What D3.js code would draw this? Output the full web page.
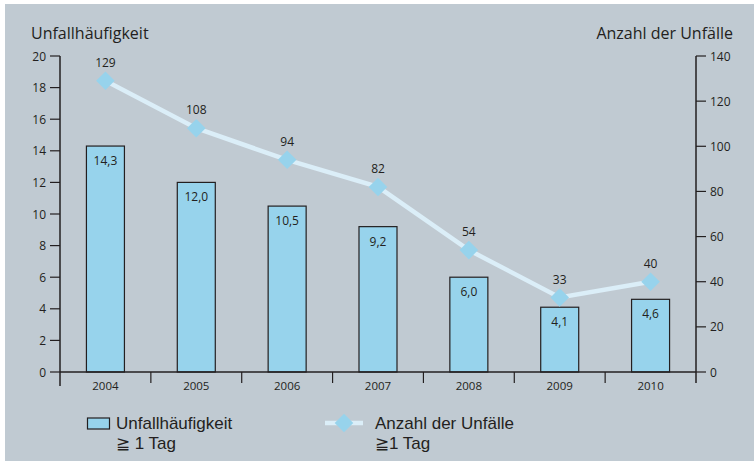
<!DOCTYPE html>
<html>
<head>
<meta charset="utf-8">
<script src="https://cdn.jsdelivr.net/npm/d3@7"></script>
<style>
  body { margin: 0; background: #fff; }
  svg { display: block; font-family: "Open Sans", "Noto Sans", sans-serif; }
  .legend text { font-family: "Liberation Sans", Arial, sans-serif; }
</style>
</head>
<body>
<svg width="754" height="461"></svg>
<script>
// data
const years = ['2004', '2005', '2006', '2007', '2008', '2009', '2010'];
const haeufigkeit = [14.3, 12.0, 10.5, 9.2, 6.0, 4.1, 4.6]; // left axis, bars
const anzahl = [129, 108, 94, 82, 54, 33, 40]; // right axis, line
const leftTicks = [0, 2, 4, 6, 8, 10, 12, 14, 16, 18, 20];
const rightTicks = [0, 20, 40, 60, 80, 100, 120, 140];

const svg = d3.select('svg');
const bg = '#c0cad2';
const barFill = '#97d3ec';
const lineCol = '#dbeef8';
const dark = '#231f20';

svg.append('rect').attr('x', 5).attr('y', 4).attr('width', 749).attr('height', 457).attr('fill', bg);

const pLeft = 60, pRight = 696, pTop = 56, pBottom = 372;

const x = d3.scaleBand().domain(years).range([pLeft, pRight]);
const yL = d3.scaleLinear().domain([0, 20]).range([pBottom, pTop]);
const yR = d3.scaleLinear().domain([0, 140]).range([pBottom, pTop]);

const fmt = v => d3.format('.1f')(v).replace('.', ',');

// bars
const bw = 38;
svg.append('g').selectAll('rect')
  .data(haeufigkeit)
  .enter()
  .append('rect')
  .attr('x', (d, i) => x(years[i]) + x.bandwidth() / 2 - bw / 2)
  .attr('y', d => yL(d))
  .attr('width', bw)
  .attr('height', d => pBottom - yL(d))
  .attr('fill', barFill)
  .attr('stroke', dark)
  .attr('stroke-width', 1.2);

svg.append('g').selectAll('text')
  .data(haeufigkeit)
  .enter()
  .append('text')
  .attr('x', (d, i) => x(years[i]) + x.bandwidth() / 2)
  .attr('y', d => yL(d) + 19)
  .attr('text-anchor', 'middle')
  .attr('font-size', 12)
  .attr('fill', dark)
  .text(d => fmt(d));

// left axis
const axL = svg.append('g');
axL.append('line').attr('x1', pLeft).attr('x2', pLeft).attr('y1', pTop).attr('y2', pBottom + 14)
  .attr('stroke', dark).attr('stroke-width', 1.5);
axL.selectAll('line.t').data(leftTicks).enter().append('line')
  .attr('x1', pLeft - 10).attr('x2', pLeft).attr('y1', d => yL(d)).attr('y2', d => yL(d))
  .attr('stroke', dark).attr('stroke-width', 1.2);
axL.selectAll('text').data(leftTicks).enter().append('text')
  .attr('x', pLeft - 14).attr('y', d => yL(d) + 4.5)
  .attr('text-anchor', 'end').attr('font-size', 12).attr('fill', dark)
  .text(d => d);

// right axis
const axR = svg.append('g');
axR.append('line').attr('x1', pRight).attr('x2', pRight).attr('y1', pTop).attr('y2', pBottom + 11)
  .attr('stroke', dark).attr('stroke-width', 1.5);
axR.selectAll('line.t').data(rightTicks).enter().append('line')
  .attr('x1', pRight).attr('x2', pRight + 10).attr('y1', d => yR(d)).attr('y2', d => yR(d))
  .attr('stroke', dark).attr('stroke-width', 1.2);
axR.selectAll('text').data(rightTicks).enter().append('text')
  .attr('x', pRight + 14).attr('y', d => yR(d) + 4.5)
  .attr('text-anchor', 'start').attr('font-size', 12).attr('fill', dark)
  .text(d => d);

// x axis
const axX = svg.append('g');
axX.append('line').attr('x1', pLeft).attr('x2', pRight).attr('y1', pBottom).attr('y2', pBottom)
  .attr('stroke', dark).attr('stroke-width', 1.5);
axX.selectAll('line.t').data(years.slice(1)).enter().append('line')
  .attr('x1', d => x(d)).attr('x2', d => x(d)).attr('y1', pBottom).attr('y2', pBottom + 11)
  .attr('stroke', dark).attr('stroke-width', 1.2);
axX.selectAll('text').data(years).enter().append('text')
  .attr('x', d => x(d) + x.bandwidth() / 2).attr('y', pBottom + 18)
  .attr('text-anchor', 'middle').attr('font-size', 11.5).attr('fill', dark)
  .text(d => d);

// line
const line = d3.line()
  .x((d, i) => x(years[i]) + x.bandwidth() / 2)
  .y(d => yR(d));
svg.append('path').datum(anzahl)
  .attr('d', line).attr('fill', 'none')
  .attr('stroke', lineCol).attr('stroke-width', 4.5);

const diamond = d3.symbol().type(d3.symbolDiamond2).size(220);
svg.append('g').selectAll('path')
  .data(anzahl).enter().append('path')
  .attr('d', diamond)
  .attr('transform', (d, i) => `translate(${x(years[i]) + x.bandwidth() / 2},${yR(d)})`)
  .attr('fill', barFill);

svg.append('g').selectAll('text')
  .data(anzahl).enter().append('text')
  .attr('x', (d, i) => x(years[i]) + x.bandwidth() / 2)
  .attr('y', d => yR(d) - 14)
  .attr('text-anchor', 'middle').attr('font-size', 12).attr('fill', dark)
  .text(d => d);

// axis titles
svg.append('text').attr('x', 31).attr('y', 39).attr('font-size', 16).attr('fill', dark)
  .text('Unfallhäufigkeit');
svg.append('text').attr('x', 733).attr('y', 39).attr('font-size', 16).attr('fill', dark)
  .attr('text-anchor', 'end').text('Anzahl der Unfälle');

// legend
const lg = svg.append('g').attr('class', 'legend');
lg.append('rect').attr('x', 87.5).attr('y', 418).attr('width', 22).attr('height', 11)
  .attr('fill', barFill).attr('stroke', dark).attr('stroke-width', 1.2);
const t1 = lg.append('text').attr('x', 116).attr('y', 429).attr('font-size', 17).attr('fill', dark);
t1.append('tspan').attr('x', 116).text('Unfallhäufigkeit');
t1.append('tspan').attr('x', 116).attr('dy', 19.6).text('≧ 1 Tag');

lg.append('line').attr('x1', 325).attr('x2', 363).attr('y1', 423).attr('y2', 423)
  .attr('stroke', lineCol).attr('stroke-width', 4.5);
lg.append('path').attr('d', diamond).attr('transform', 'translate(344,423)').attr('fill', barFill);
const t2 = lg.append('text').attr('x', 375).attr('y', 429).attr('font-size', 17).attr('fill', dark);
t2.append('tspan').attr('x', 375).text('Anzahl der Unfälle');
t2.append('tspan').attr('x', 375).attr('dy', 19.6).text('≧1 Tag');
</script>
</body>
</html>
